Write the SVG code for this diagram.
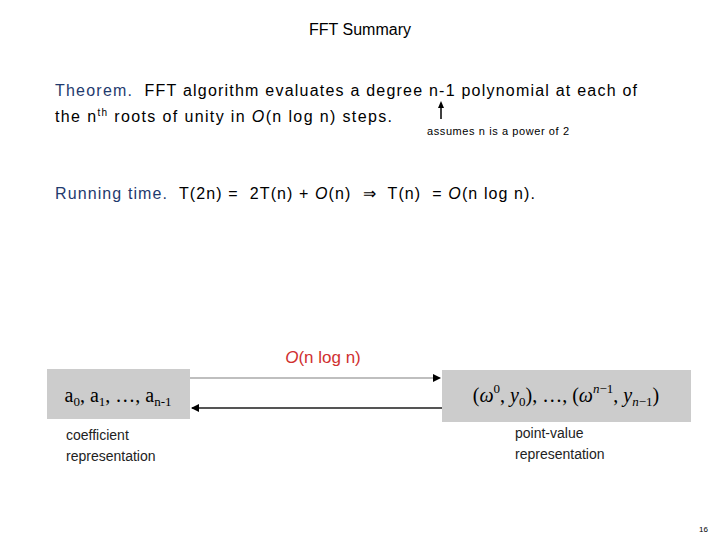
<svg xmlns="http://www.w3.org/2000/svg" width="720" height="540" viewBox="0 0 720 540">
<style>
.t{font-family:"Liberation Sans",sans-serif;font-size:16px;fill:#000}
.b{fill:#1f3a6e}
.s{font-family:"Liberation Sans",sans-serif;font-size:14px;fill:#222}
.m{font-family:"Liberation Serif",serif;font-size:20px;fill:#000}
.box{fill:#cccccc}
</style>
<defs><marker id="ah" markerWidth="8" markerHeight="8" refX="7" refY="4" orient="auto" markerUnits="userSpaceOnUse"><path d="M0,0L8,4L0,8z" fill="#000"/></marker></defs>
<rect width="720" height="540" fill="#fff"/>
<text class="t" x="360" y="35" text-anchor="middle" fill="#1f1f4f">FFT Summary</text>
<text class="t" x="55" y="96" textLength="582" xml:space="preserve"><tspan class="b">Theorem.</tspan>  FFT algorithm evaluates a degree n-1 polynomial at each of</text>
<text class="t" x="55" y="122" textLength="337">the n<tspan font-size="10" dy="-6">th</tspan><tspan dy="6"> roots of unity in </tspan><tspan font-style="italic">O</tspan>(n log n) steps.</text>
<path d="M441,119V106" stroke="#000" stroke-width="1.5"/><path d="M438,108L441,101L444,108z" fill="#000"/>
<text x="427" y="135" font-family="Liberation Sans,sans-serif" font-size="11" textLength="142">assumes n is a power of 2</text>
<text class="t" x="55" y="199" textLength="480" xml:space="preserve"><tspan class="b">Running time.</tspan>  T(2n) =  2T(n) + <tspan font-style="italic">O</tspan>(n)  ⇒  T(n)  = <tspan font-style="italic">O</tspan>(n log n).</text>
<g id="coef"><rect class="box" x="47" y="369" width="143" height="50"/>
<text class="m" x="118" y="402" text-anchor="middle">a<tspan font-size="13" dy="4">0</tspan><tspan dy="-4">, a</tspan><tspan font-size="13" dy="4">1</tspan><tspan dy="-4">, …, a</tspan><tspan font-size="13" dy="4">n-1</tspan></text>
<text class="s" x="66" y="440">coefficient</text><text class="s" x="66" y="461">representation</text></g>
<g id="pv"><rect class="box" x="442" y="370" width="249" height="52"/>
<text class="m" x="566" y="402" text-anchor="middle">(<tspan font-style="italic">ω</tspan><tspan font-size="13" dy="-9">0</tspan><tspan dy="9">, </tspan><tspan font-style="italic">y</tspan><tspan font-size="13" dy="4">0</tspan><tspan dy="-4">), …, (</tspan><tspan font-style="italic">ω</tspan><tspan font-size="13" dy="-9" font-style="italic">n</tspan><tspan font-size="13">−1</tspan><tspan dy="9">, </tspan><tspan font-style="italic">y</tspan><tspan font-size="13" dy="4" font-style="italic">n</tspan><tspan font-size="13">−1</tspan><tspan dy="-4">)</tspan></text>
<text class="s" x="515" y="438">point-value</text><text class="s" x="515" y="459">representation</text></g>
<g id="connectors">
<line x1="190" y1="378" x2="440" y2="378" stroke="#aaa" stroke-width="1.5" marker-end="url(#ah)"/>
<line x1="442" y1="408" x2="192" y2="408" stroke="#555" stroke-width="2" marker-end="url(#ah)"/>
<text x="323" y="363" text-anchor="middle" font-family="Liberation Sans,sans-serif" font-size="17" fill="#d03030"><tspan font-style="italic">O</tspan>(n log n)</text>
</g>
<text x="708" y="532" font-family="Liberation Sans,sans-serif" font-size="8" text-anchor="end">16</text>
</svg>
